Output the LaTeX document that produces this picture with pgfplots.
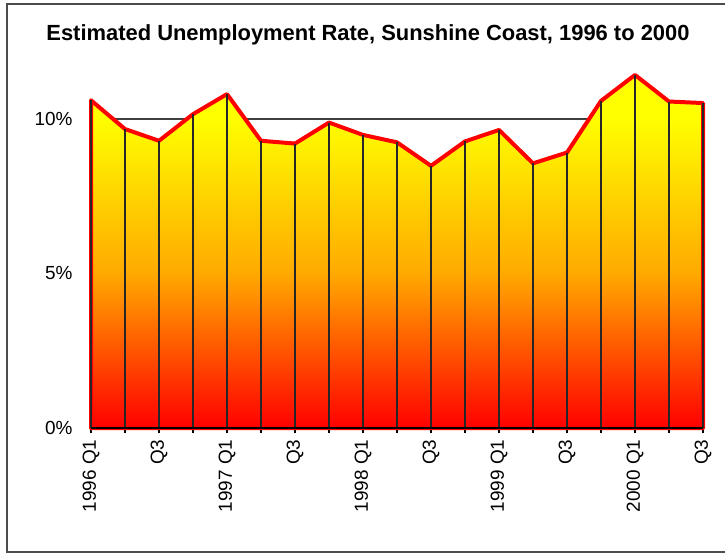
\documentclass[border=0pt]{standalone}
\usepackage{pgfplots}
\pgfplotsset{compat=1.18}
\usepackage{pgfplotstable}
\usepackage{fontspec}
\setmainfont{Liberation Sans}
\definecolor{midorange}{RGB}{255,170,0}
\pgfdeclareverticalshading{fillgrad}{100bp}{color(0bp)=(red); color(25bp)=(red); color(47bp)=(midorange); color(69bp)=(yellow); color(100bp)=(yellow)}
\pgfplotstableread{
x y
0 10.60
1 9.67
2 9.29
3 10.15
4 10.80
5 9.29
6 9.20
7 9.88
8 9.48
9 9.24
10 8.48
11 9.27
12 9.64
13 8.56
14 8.91
15 10.58
16 11.42
17 10.56
18 10.51
}\ratetable
\begin{document}
\begin{tikzpicture}
\path[use as bounding box] (0bp,0bp) rectangle (725bp,554bp);
\draw[line width=2bp, draw=black!70] (7bp,2bp) rectangle (740bp,550bp);
\node[font=\bfseries\fontsize{22}{24}\selectfont] at (368bp,519bp) {Estimated Unemployment Rate, Sunshine Coast, 1996 to 2000};
\begin{axis}[
  at={(91bp,126bp)}, anchor=south west,
  scale only axis, width=612bp, height=371bp,
  xmin=0, xmax=18, ymin=0, ymax=12,
  axis lines*=left,
  y axis line style={draw=none},
  x axis line style={line width=1.5bp, black},
  ytick={0,5,10}, yticklabels={0\%,5\%,10\%},
  ytick style={draw=none},
  ymajorgrids, grid style={black!75, line width=1.5bp},
  xtick={0,...,18},
  xticklabels={1996 Q1,,Q3,,1997 Q1,,Q3,,1998 Q1,,Q3,,1999 Q1,,Q3,,2000 Q1,,Q3},
  xticklabel style={rotate=90, anchor=east, font=\fontsize{19}{21}\selectfont},
  xticklabel shift=3bp,
  yticklabel style={font=\fontsize{19}{21}\selectfont, xshift=-10bp},
  tick align=outside, major tick length=5bp,
  x tick style={black, line width=1.2bp},
  clip=false,
]
\addplot[draw=red, line width=4bp, line join=round, shading=fillgrad] table[x=x,y=y] {\ratetable} \closedcycle;
\addplot[ycomb, black!85, line width=1.5bp, mark=none] table[x=x,y=y] {\ratetable};
\draw[black, line width=1.5bp] (axis cs:0,0) -- (axis cs:18,0);
\end{axis}
\end{tikzpicture}
\end{document}
